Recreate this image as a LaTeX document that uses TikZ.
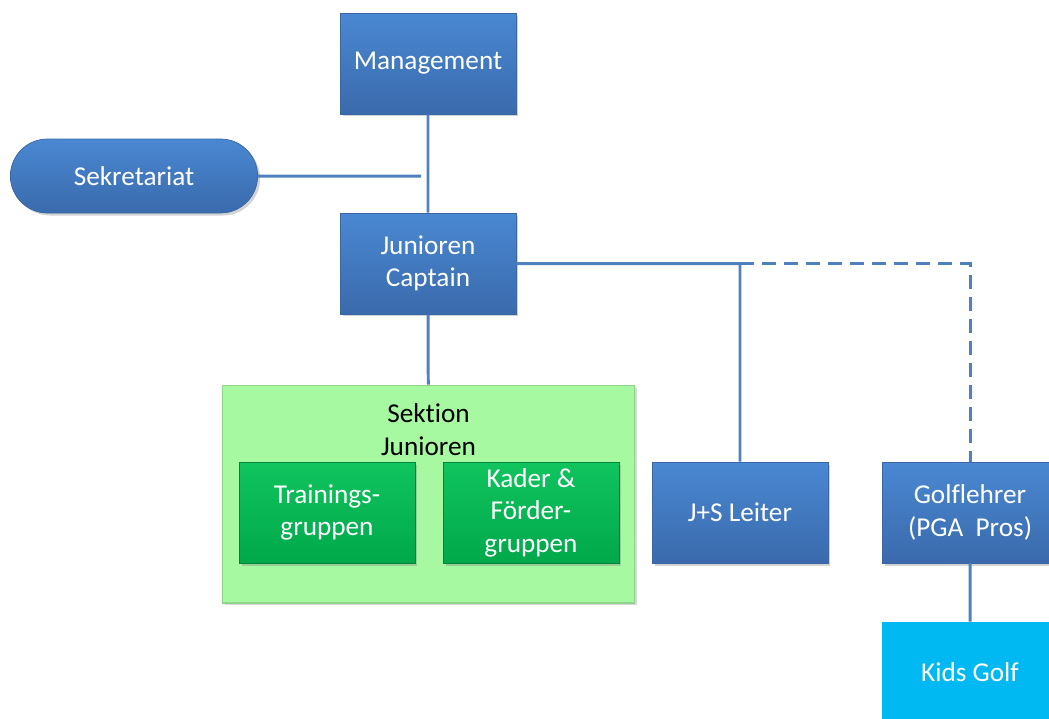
\documentclass[tikz,border=0pt]{standalone}
\usepackage{fontspec}
\setmainfont{Carlito}[Ligatures=NoCommon]
\usetikzlibrary{shapes}
\usetikzlibrary{shadows}

\definecolor{bluetop}{HTML}{4A88D2}
\definecolor{bluebot}{HTML}{3A6AAC}
\definecolor{blueedge}{HTML}{3A66A4}
\definecolor{linkblue}{HTML}{4F81BD}
\definecolor{greentop}{HTML}{10C45E}
\definecolor{greenbot}{HTML}{00A84A}
\definecolor{sekfill}{HTML}{A6F9A0}
\definecolor{sekedge}{HTML}{8ED48A}
\definecolor{kidsblue}{HTML}{00B8F2}

\begin{document}
\begin{tikzpicture}[x=0.02cm,y=-0.02cm,line width=1.7pt,
  main node/.style={rectangle,draw=blueedge,line width=0.4pt,top color=bluetop,bottom color=bluebot,text=white,align=center,minimum width=3.52cm,minimum height=2.02cm,font=\fontsize{15.5}{18.5}\selectfont,drop shadow={shadow xshift=0.05cm,shadow yshift=-0.05cm,opacity=0.35}},
  group node/.style={main node,draw=greenbot!80!black,top color=greentop,bottom color=greenbot},
  link/.style={draw=linkblue,line width=1.7pt}]

	      \clip (0,0) rectangle (1049,718);

	      \node[main node] at (428,63.5) (mgmt) {Management};
	      \node[main node,rounded rectangle,minimum width=5.18cm,minimum height=1.48cm] at (134,176) (sekr) {Sekretariat};
	      \node[main node] at (428,263.5) (capt) {Junioren\\Captain};
	      \node[rectangle,draw=sekedge,line width=0.6pt,fill=sekfill,minimum width=8.26cm,minimum height=4.36cm,drop shadow={shadow xshift=0.05cm,shadow yshift=-0.05cm,opacity=0.3},
	            label={[anchor=north,align=center,font=\fontsize{15.5}{18.5}\selectfont,yshift=-0.24cm]north:Sektion\\Junioren}] at (428.5,494) (sekt) {};
	      \node[group node] at (327,512.5) (train) {Trainings-\\gruppen};
	      \node[group node] at (531,512.5) (kader) {Kader \&\\Förder-\\gruppen};
	      \node[main node] at (740,512.5) (js) {J+S Leiter};
	      \node[main node] at (970,512.5) (golf) {Golflehrer\\(PGA\ \ Pros)};
	      \node[main node,draw=kidsblue,top color=kidsblue,bottom color=kidsblue] at (970,672.5) (kids) {Kids Golf};

	      \coordinate (tap) at (421,176);
	      \coordinate (split) at (js.north |- capt.east);

	      \path[link]
	      (mgmt) -- (capt)
	      (sekr) -- (tap)
	      (capt) -- (sekt)
	      (capt.east) -| (js.north)
	      (golf) -- (kids)
	      ;
	      \draw[link,dash pattern=on 8pt off 4.5pt] (split) -| (golf.north);

	    \end{tikzpicture}
\end{document}
